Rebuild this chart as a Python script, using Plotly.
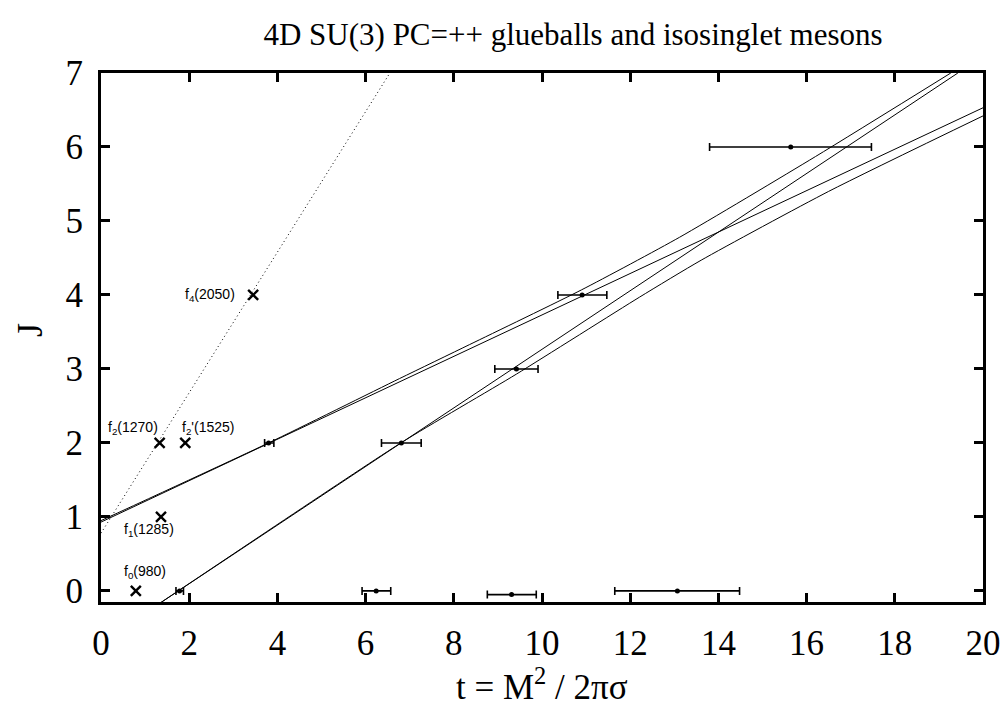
import plotly.graph_objects as go

# ---- data ----
# lattice glueball states (t = M^2 / 2 pi sigma, J) with horizontal error ranges
gb_t = [1.78, 6.24, 9.31, 13.07, 3.80, 6.81, 9.42, 10.91, 15.64]
gb_J = [0, 0, -0.05, 0, 2, 2, 3, 4, 6]
gb_tlo = [1.70, 5.92, 8.76, 11.65, 3.71, 6.36, 8.93, 10.36, 13.80]
gb_thi = [1.87, 6.57, 9.87, 14.48, 3.92, 7.26, 9.91, 11.47, 17.47]

# isosinglet mesons
meson_t = [0.79, 1.36, 1.33, 1.91, 3.45]
meson_J = [0, 1, 2, 2, 4]
meson_names = ["f<sub>0</sub>(980)", "f<sub>1</sub>(1285)", "f<sub>2</sub>(1270)",
               "f<sub>2</sub>'(1525)", "f<sub>4</sub>(2050)"]

# trajectory curves (knots)
trajA_t = [0, 3.8, 6.77, 8.36, 10.9, 13.12, 16.2, 19.27]
trajA_J = [0.95, 2.0, 2.87, 3.33, 4.07, 4.78, 5.87, 7.0]
trajB_t = [0, 20]
trajB_J = [0.93, 6.53]
trajC_t = [1.25, 19.43]
trajC_J = [-0.20, 7.0]
trajD_t = [1.30, 1.8, 6.8, 9.42, 12.21, 13.61, 16.5, 20]
trajD_J = [-0.18, 0.02, 2.0, 2.93, 3.97, 4.47, 5.4, 6.42]
# dotted meson trajectory
dot_t = [0, 6.55]
dot_J = [0.78, 7.0]

# ---- style ----
label_shift = [(9, 19), (-12, -13), (-27, 15), (23, 15), (-43, 0)]  # px offsets
SERIF = "Liberation Serif, Times New Roman, serif"
SANS = "Liberation Sans, Arial, sans-serif"

fig = go.Figure()

for tt, jj in [(trajA_t, trajA_J), (trajB_t, trajB_J), (trajC_t, trajC_J), (trajD_t, trajD_J)]:
    fig.add_trace(go.Scatter(x=tt, y=jj, mode="lines",
                             line=dict(color="black", width=1, shape="spline", smoothing=0.6),
                             showlegend=False, hoverinfo="skip"))

fig.add_trace(go.Scatter(x=dot_t, y=dot_J, mode="lines",
                         line=dict(color="black", width=1, dash="1px,3px"),
                         showlegend=False, hoverinfo="skip"))

fig.add_trace(go.Scatter(
    x=gb_t, y=gb_J, mode="markers",
    marker=dict(color="black", size=5),
    error_x=dict(type="data", symmetric=False,
                 array=[h - c for h, c in zip(gb_thi, gb_t)],
                 arrayminus=[c - l for c, l in zip(gb_t, gb_tlo)],
                 color="black", thickness=1.6, width=4),
    showlegend=False))

fig.add_trace(go.Scatter(
    x=meson_t, y=meson_J, mode="markers",
    marker=dict(symbol="x-thin-open", size=10, color="black", line=dict(color="black", width=2.4)),
    showlegend=False))

for name, tt, jj, (dx, dy) in zip(meson_names, meson_t, meson_J, label_shift):
    fig.add_annotation(x=tt, y=jj, text=name, showarrow=False,
                       xshift=dx, yshift=dy, xanchor="center", yanchor="middle",
                       font=dict(family=SANS, size=14, color="black"))

axis_common = dict(showline=True, linewidth=3, linecolor="black", mirror="allticks",
                   ticks="inside", ticklen=9, tickwidth=3, tickcolor="black",
                   showgrid=False, zeroline=False, automargin=False,
                   tickfont=dict(family=SERIF, size=35, color="black"))

# axis titles as annotations for exact placement
fig.add_annotation(text="t = M<sup>2</sup> / 2πσ", xref="paper", yref="paper",
                   x=(542 - 101) / 882, y=(602 - 684) / 529, xanchor="center", yanchor="middle",
                   showarrow=False, font=dict(family=SERIF, size=35, color="black"))
fig.add_annotation(text="J", xref="paper", yref="paper", textangle=-90,
                   x=(30 - 101) / 882, y=(602 - 330) / 529, xanchor="center", yanchor="middle",
                   showarrow=False, font=dict(family=SERIF, size=36, color="black"))

fig.update_layout(
    width=1004, height=710,
    margin=dict(l=101, r=21, t=73, b=108, autoexpand=False),
    paper_bgcolor="white", plot_bgcolor="white",
    title=dict(text="4D SU(3) PC=++ glueballs and isosinglet mesons",
               x=573 / 1004, xanchor="center", xref="container",
               y=1 - 34 / 710, yanchor="middle", yref="container",
               font=dict(family=SERIF, size=31, color="black")),
    xaxis=dict(range=[0, 20], tickvals=list(range(0, 21, 2)), ticklabelstandoff=8,
               **axis_common),
    yaxis=dict(range=[-0.15, 7], tickvals=list(range(0, 8)), ticklabelstandoff=8,
               **axis_common),
)

fig.write_html("out.html")
